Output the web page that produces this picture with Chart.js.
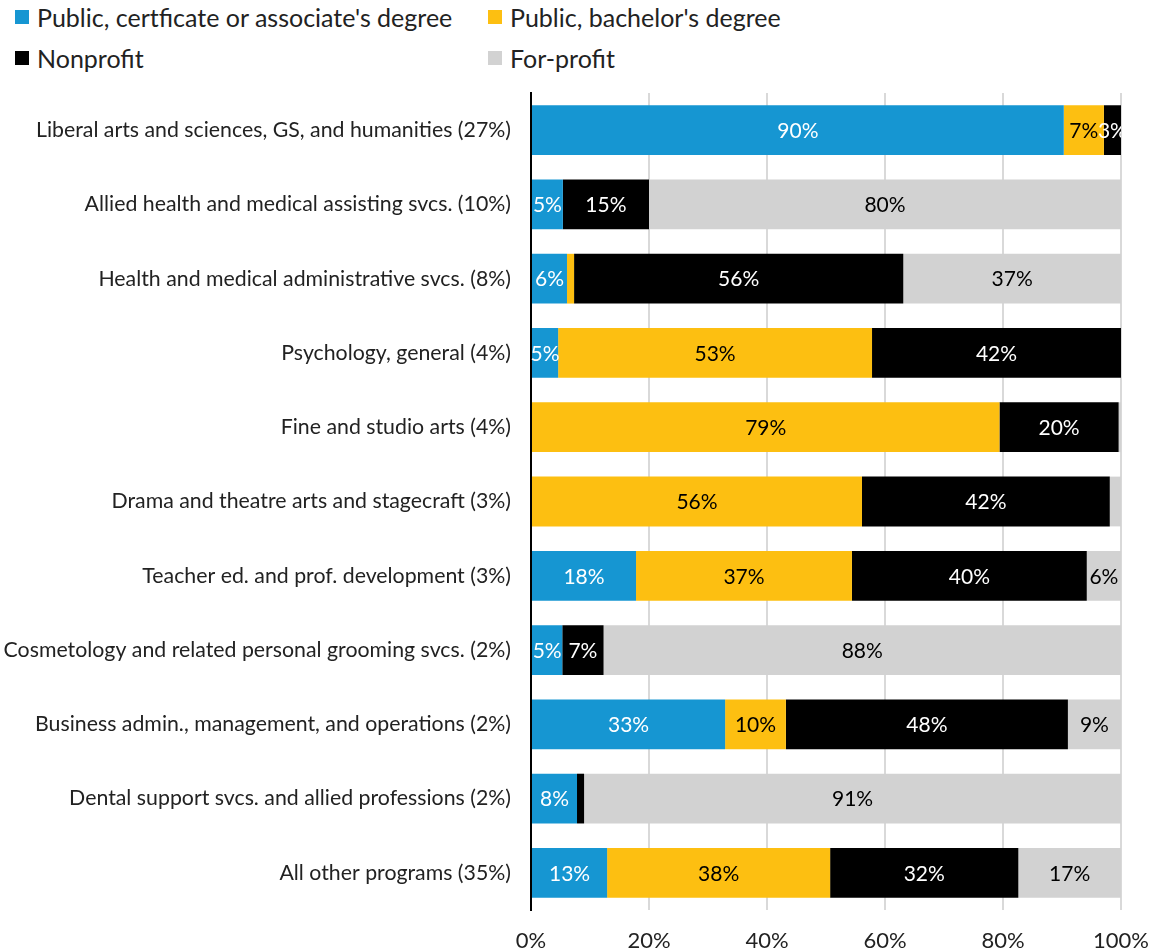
<!DOCTYPE html>
<html>
<head>
<meta charset="utf-8">
<script src="https://cdn.jsdelivr.net/npm/chart.js@4"></script>
<style>
  body { margin: 0; background: #fff; font-family: Lato, sans-serif; }
  #legend { position: absolute; left: 15px; top: 0; width: 1130px; }
  .item { position: absolute; display: flex; align-items: center; font-size: 25px; color: #222; white-space: nowrap; line-height: 30px; }
  .item span.sw { width: 14px; height: 14px; margin-right: 8px; display: inline-block; }
  #wrap { position: absolute; left: 0; top: 78px; width: 1151px; height: 873px; }
</style>
</head>
<body>
<div id="legend"></div>
<div id="wrap"><canvas id="chartProgramas"></canvas></div>
<script>
const programas = [
  'Liberal arts and sciences, GS, and humanities (27%)',
  'Allied health and medical assisting svcs. (10%)',
  'Health and medical administrative svcs. (8%)',
  'Psychology, general (4%)',
  'Fine and studio arts (4%)',
  'Drama and theatre arts and stagecraft (3%)',
  'Teacher ed. and prof. development (3%)',
  'Cosmetology and related personal grooming svcs. (2%)',
  'Business admin., management, and operations (2%)',
  'Dental support svcs. and allied professions (2%)',
  'All other programs (35%)'
];
const publicoCert = [90.3, 5.4, 6.1, 4.6, 0, 0, 17.8, 5.3, 32.9, 7.8, 12.9];
const publicoBach = [6.8, 0, 1.2, 53.2, 79.4, 56.1, 36.6, 0, 10.3, 0, 37.8];
const semFins = [2.9, 14.6, 55.8, 42.2, 20.2, 42.0, 39.8, 7.0, 47.8, 1.2, 31.9];
const comFins = [0, 80.0, 36.9, 0, 0.4, 1.9, 5.8, 87.7, 9.0, 91.0, 17.4];
const ticksX = [0, 20, 40, 60, 80, 100];

const series = [
  { label: "Public, certficate or associate's degree", data: publicoCert, cor: '#1696d2', texto: '#ffffff', lx: 0, ly: 17 },
  { label: "Public, bachelor's degree", data: publicoBach, cor: '#fdbf11', texto: '#000000', lx: 473, ly: 17 },
  { label: 'Nonprofit', data: semFins, cor: '#000000', texto: '#ffffff', lx: 0, ly: 58 },
  { label: 'For-profit', data: comFins, cor: '#d2d2d2', texto: '#000000', lx: 473, ly: 58 }
];

// legenda em html (duas colunas)
const legendEl = document.getElementById('legend');
series.forEach(s => {
  const d = document.createElement('div');
  d.className = 'item';
  d.style.left = s.lx + 'px';
  d.style.top = (s.ly - 15) + 'px';
  d.innerHTML = `<span class="sw" style="background:${s.cor}"></span>${s.label}`;
  legendEl.appendChild(d);
});

// rótulos dentro das barras
const rotulos = {
  id: 'rotulos',
  afterDatasetsDraw(chart) {
    const { ctx, chartArea } = chart;
    ctx.save();
    ctx.beginPath();
    ctx.rect(chartArea.left, chartArea.top, chartArea.right - chartArea.left, chartArea.bottom - chartArea.top);
    ctx.clip();
    ctx.font = '21px Lato';
    ctx.textAlign = 'center';
    ctx.textBaseline = 'middle';
    chart.data.datasets.forEach((ds, i) => {
      chart.getDatasetMeta(i).data.forEach((bar, j) => {
        const v = ds.data[j];
        if (v < 2.5) return;
        ctx.fillStyle = series[i].texto;
        ctx.fillText(Math.round(v) + '%', (bar.x + bar.base) / 2, bar.y + 1);
      });
    });
    ctx.restore();
  }
};

Chart.defaults.font.family = 'Lato';
Chart.defaults.font.size = 21;
Chart.defaults.color = '#222';

new Chart(document.getElementById('chartProgramas'), {
  type: 'bar',
  data: {
    labels: programas,
    datasets: series.map(s => ({
      label: s.label,
      data: s.data,
      backgroundColor: s.cor,
      borderWidth: 0,
      categoryPercentage: 1,
      barPercentage: 0.67
    }))
  },
  options: {
    indexAxis: 'y',
    animation: false,
    responsive: true,
    maintainAspectRatio: false,
    layout: { padding: { top: 15, right: 30, left: 0, bottom: 0 } },
    plugins: { legend: { display: false }, tooltip: { enabled: false } },
    scales: {
      x: {
        stacked: true,
        min: 0,
        max: 100,
        afterBuildTicks: scale => { scale.ticks = ticksX.map(v => ({ value: v })); },
        afterFit: scale => {
          scale.height = 41;
          scale.paddingLeft = 0;
          scale.paddingRight = 0;
        },
        ticks: { callback: v => v + '%', padding: 18, maxRotation: 0, font: { size: 22 } },
        grid: { color: '#d9d9d9', lineWidth: 2, drawTicks: false },
        border: { display: false }
      },
      y: {
        stacked: true,
        afterFit: scale => {
          scale.width = 531;
          scale.paddingTop = 0;
          scale.paddingBottom = 0;
        },
        ticks: { padding: 20, font: { size: 21.3 } },
        grid: { display: false, drawTicks: false },
        border: { display: true, color: '#000', width: 2 }
      }
    }
  },
  plugins: [rotulos]
});
</script>
</body>
</html>
